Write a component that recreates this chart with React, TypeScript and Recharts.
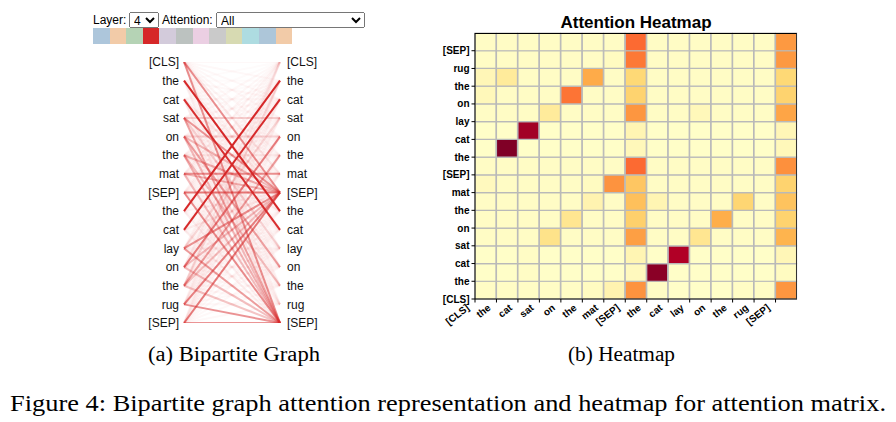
import { LineChart, Line, XAxis, YAxis, BarChart, Bar, Cell } from 'recharts';

// tokens of the two sentences, in order
const tokens = ['[CLS]', 'the', 'cat', 'sat', 'on', 'the', 'mat', '[SEP]', 'the', 'cat', 'lay', 'on', 'the', 'rug', '[SEP]'];

// head colour swatches shown under the controls (head 4 selected)
const headColors = ['#adc6db', '#f2cba8', '#b5d3b5', '#d62728', '#d3cbdb', '#bcc2c0', '#ebcfe3', '#cacaca', '#d7dab2', '#aedce1', '#adc6d9', '#f2cba8'];
const selectedHead = 3;

// attention weights, one row per query token (from [CLS] upwards), one column per key token
const rowCls = [0.02, 0.02, 0.02, 0.02, 0.02, 0.03, 0.08, 0.48, 0.02, 0.01, 0.01, 0.01, 0.02, 0.02, 0.47];
const rowThe1 = [0.01, 0.01, 0.02, 0.01, 0.01, 0.01, 0.01, 0.04, 0.98, 0.01, 0.01, 0.01, 0.01, 0.01, 0.03];
const rowCat1 = [0.01, 0.01, 0.02, 0.01, 0.01, 0.01, 0.01, 0.07, 0.01, 0.9, 0.01, 0.01, 0.01, 0.01, 0.06];
const rowSat = [0.02, 0.02, 0.02, 0.19, 0.02, 0.02, 0.02, 0.44, 0.02, 0.02, 0.17, 0.02, 0.02, 0.02, 0.37];
const rowOn1 = [0.02, 0.02, 0.02, 0.02, 0.17, 0.02, 0.02, 0.28, 0.02, 0.02, 0.02, 0.39, 0.02, 0.02, 0.27];
const rowThe2 = [0.02, 0.02, 0.02, 0.02, 0.02, 0.08, 0.02, 0.33, 0.07, 0.02, 0.02, 0.02, 0.26, 0.02, 0.32];
const rowMat = [0.04, 0.02, 0.02, 0.02, 0.02, 0.03, 0.48, 0.31, 0.02, 0.02, 0.02, 0.02, 0.02, 0.02, 0.27];
const rowSep1 = [0.02, 0.02, 0.02, 0.02, 0.02, 0.02, 0.02, 0.57, 0.02, 0.02, 0.02, 0.02, 0.02, 0.02, 0.49];
const rowThe3 = [0.01, 1.0, 0.01, 0.01, 0.01, 0.01, 0.01, 0.05, 0.01, 0.01, 0.01, 0.01, 0.01, 0.01, 0.05];
const rowCat2 = [0.01, 0.01, 0.93, 0.01, 0.01, 0.01, 0.01, 0.07, 0.01, 0.01, 0.01, 0.01, 0.01, 0.01, 0.06];
const rowLay = [0.02, 0.02, 0.02, 0.14, 0.02, 0.02, 0.02, 0.47, 0.02, 0.02, 0.05, 0.02, 0.02, 0.02, 0.42];
const rowOn2 = [0.05, 0.02, 0.02, 0.02, 0.55, 0.02, 0.02, 0.27, 0.02, 0.02, 0.02, 0.02, 0.02, 0.02, 0.27];
const rowThe4 = [0.06, 0.14, 0.02, 0.02, 0.02, 0.4, 0.02, 0.25, 0.02, 0.02, 0.02, 0.02, 0.02, 0.02, 0.25];
const rowRug = [0.02, 0.02, 0.02, 0.02, 0.02, 0.02, 0.03, 0.54, 0.02, 0.02, 0.02, 0.02, 0.02, 0.02, 0.46];
const rowSep2 = [0.02, 0.02, 0.02, 0.02, 0.02, 0.02, 0.02, 0.57, 0.02, 0.02, 0.02, 0.02, 0.02, 0.02, 0.46];

const attention = [rowCls, rowThe1, rowCat1, rowSat, rowOn1, rowThe2, rowMat, rowSep1, rowThe3, rowCat2, rowLay, rowOn2, rowThe4, rowRug, rowSep2];

// YlOrRd
const ylOrRd = ['#ffffcc', '#ffeda0', '#fed976', '#feb24c', '#fd8d3c', '#fc4e2a', '#e31a1c', '#bd0026', '#800026'];

const hex = (c: string) => [1, 3, 5].map((k) => parseInt(c.slice(k, k + 2), 16));
const heatColor = (v: number) => {
  const t = Math.max(0, Math.min(1, v)) * (ylOrRd.length - 1);
  const k = Math.min(ylOrRd.length - 2, Math.floor(t));
  const a = hex(ylOrRd[k]);
  const b = hex(ylOrRd[k + 1]);
  const f = t - k;
  return `rgb(${a.map((x, n) => Math.round(x + (b[n] - x) * f)).join(',')})`;
};

const idx = tokens.map((_, i) => i);
const links = attention
  .flatMap((row, i) => row.map((w, j) => ({ from: i, to: j, w })))
  .sort((p, q) => p.w - q.w);

const heatData = idx.map((j) => {
  const d: Record<string, number> = { k: j };
  idx.forEach((i) => { d[`r${i}`] = 1; });
  return d;
});

const sans = '"Liberation Sans", Arial, Helvetica, sans-serif';
const serif = '"Liberation Serif", "Times New Roman", serif';

const HeatXTick = (props: any) => {
  const { x, y, payload } = props;
  const bx = x - (payload?.offset ?? 0);
  return (
    <g>
      <line x1={bx} x2={bx} y1={y} y2={y + 3.5} stroke="#000" strokeWidth={1} />
      <text
        transform={`translate(${bx - 5},${y + 10}) rotate(-38)`}
        textAnchor="end"
        fontSize={10}
        fontWeight="bold"
        fontFamily={sans}
        fill="#000"
      >
        {tokens[payload.value]}
      </text>
    </g>
  );
};

const Bipartite = () => (
  <LineChart width={230} height={293} margin={{ top: 22, right: 0, bottom: 10, left: 0 }}>
    <XAxis dataKey="x" type="number" domain={[0, 1]} hide />
    <YAxis
      yAxisId="left"
      type="number"
      domain={[0, 14]}
      ticks={idx}
      interval={0}
      reversed
      allowDataOverflow
      width={84}
      axisLine={false}
      tickLine={false}
      tickSize={3}
      tickMargin={2}
      tickFormatter={(v: number) => tokens[v]}
      tick={{ fontSize: 12, fill: '#111', fontFamily: sans }}
    />
    <YAxis
      yAxisId="right"
      orientation="right"
      type="number"
      domain={[0, 14]}
      ticks={idx}
      interval={0}
      reversed
      allowDataOverflow
      width={50}
      axisLine={false}
      tickLine={false}
      tickSize={5}
      tickMargin={2}
      tickFormatter={(v: number) => tokens[v]}
      tick={{ fontSize: 12, fill: '#111', fontFamily: sans, textAnchor: 'start' }}
    />
    {links.map((l) => (
      <Line
        key={`${l.from}-${l.to}`}
        yAxisId="left"
        data={[{ x: 0, y: l.from }, { x: 1, y: l.to }]}
        dataKey="y"
        type="linear"
        stroke={headColors[selectedHead]}
        strokeOpacity={Math.min(1, 0.01 + l.w * 1.05)}
        strokeWidth={2}
        dot={false}
        activeDot={false}
        isAnimationActive={false}
      />
    ))}
  </LineChart>
);

const Heatmap = () => (
  <BarChart
    width={399}
    height={339}
    data={heatData}
    margin={{ top: 33, right: 2, bottom: 0, left: 0 }}
    barCategoryGap={0}
    barGap={0}
  >
    <XAxis
      dataKey="k"
      type="category"
      interval={0}
      height={40}
      tickLine={false}
      tickSize={0}
      tickMargin={0}
      axisLine={{ stroke: '#000' }}
      tick={<HeatXTick />}
    />
    <YAxis
      type="number"
      domain={[0, 15]}
      ticks={idx}
      interval={0}
      width={75}
      axisLine={{ stroke: '#000' }}
      tickLine={{ stroke: '#000' }}
      tickSize={3.5}
      tickMargin={2}
      tickFormatter={(v: number) => tokens[v]}
      tick={{ fontSize: 10, fontWeight: 'bold', fill: '#000', fontFamily: sans }}
    />
    {idx.map((i) => (
      <Bar key={i} dataKey={`r${i}`} stackId="s" isAnimationActive={false} stroke="#b9b9b9" strokeWidth={1.2}>
        {idx.map((j) => (
          <Cell key={j} fill={heatColor(attention[i][j])} />
        ))}
      </Bar>
    ))}
  </BarChart>
);

export default function App() {
  return (
    <div style={{ position: 'absolute', left: 0, top: 0, width: 896, height: 422, background: '#fff', overflow: 'hidden' }}>
      {/* controls */}
      <div style={{ position: 'absolute', left: 93, top: 12, fontFamily: sans, fontSize: 12, lineHeight: '16px', color: '#000' }}>Layer:</div>
      <select defaultValue="4" style={{ position: 'absolute', left: 129, top: 12, width: 30, height: 16, fontSize: 12, fontFamily: sans, padding: 0 }}>
        <option value="4">4</option>
      </select>
      <div style={{ position: 'absolute', left: 162, top: 12, fontFamily: sans, fontSize: 12, lineHeight: '16px', color: '#000' }}>Attention:</div>
      <select defaultValue="All" style={{ position: 'absolute', left: 216, top: 12, width: 149, height: 16, fontSize: 12, fontFamily: sans, padding: 0 }}>
        <option value="All">All</option>
      </select>
      <div style={{ position: 'absolute', left: 93, top: 28, display: 'flex' }}>
        {headColors.map((c, k) => (
          <div key={k} style={{ width: 16.6, height: 15.5, background: c }} />
        ))}
      </div>

      <div style={{ position: 'absolute', left: 100, top: 40 }}>
        <Bipartite />
      </div>

      <div style={{ position: 'absolute', left: 475, top: 14, width: 322, textAlign: 'center', fontFamily: sans, fontWeight: 'bold', fontSize: 17, lineHeight: '17px' }}>
        Attention Heatmap
      </div>
      <div style={{ position: 'absolute', left: 400, top: 0 }}>
        <Heatmap />
      </div>
      <div style={{ position: 'absolute', left: 475, top: 33, width: 322, height: 266, borderTop: '1px solid #000', borderRight: '1.5px solid #333', boxSizing: 'border-box', pointerEvents: 'none' }} />

      <svg width={896} height={422} style={{ position: 'absolute', left: 0, top: 0, pointerEvents: 'none' }}>
        <text x={148} y={361} fontFamily={serif} fontSize={20} textLength={172} lengthAdjust="spacingAndGlyphs">(a) Bipartite Graph</text>
        <text x={568} y={361} fontFamily={serif} fontSize={20} textLength={107} lengthAdjust="spacingAndGlyphs">(b) Heatmap</text>
        <text x={10} y={411} fontFamily={serif} fontSize={23} textLength={876} lengthAdjust="spacingAndGlyphs">
          Figure 4: Bipartite graph attention representation and heatmap for attention matrix.
        </text>
      </svg>
    </div>
  );
}
